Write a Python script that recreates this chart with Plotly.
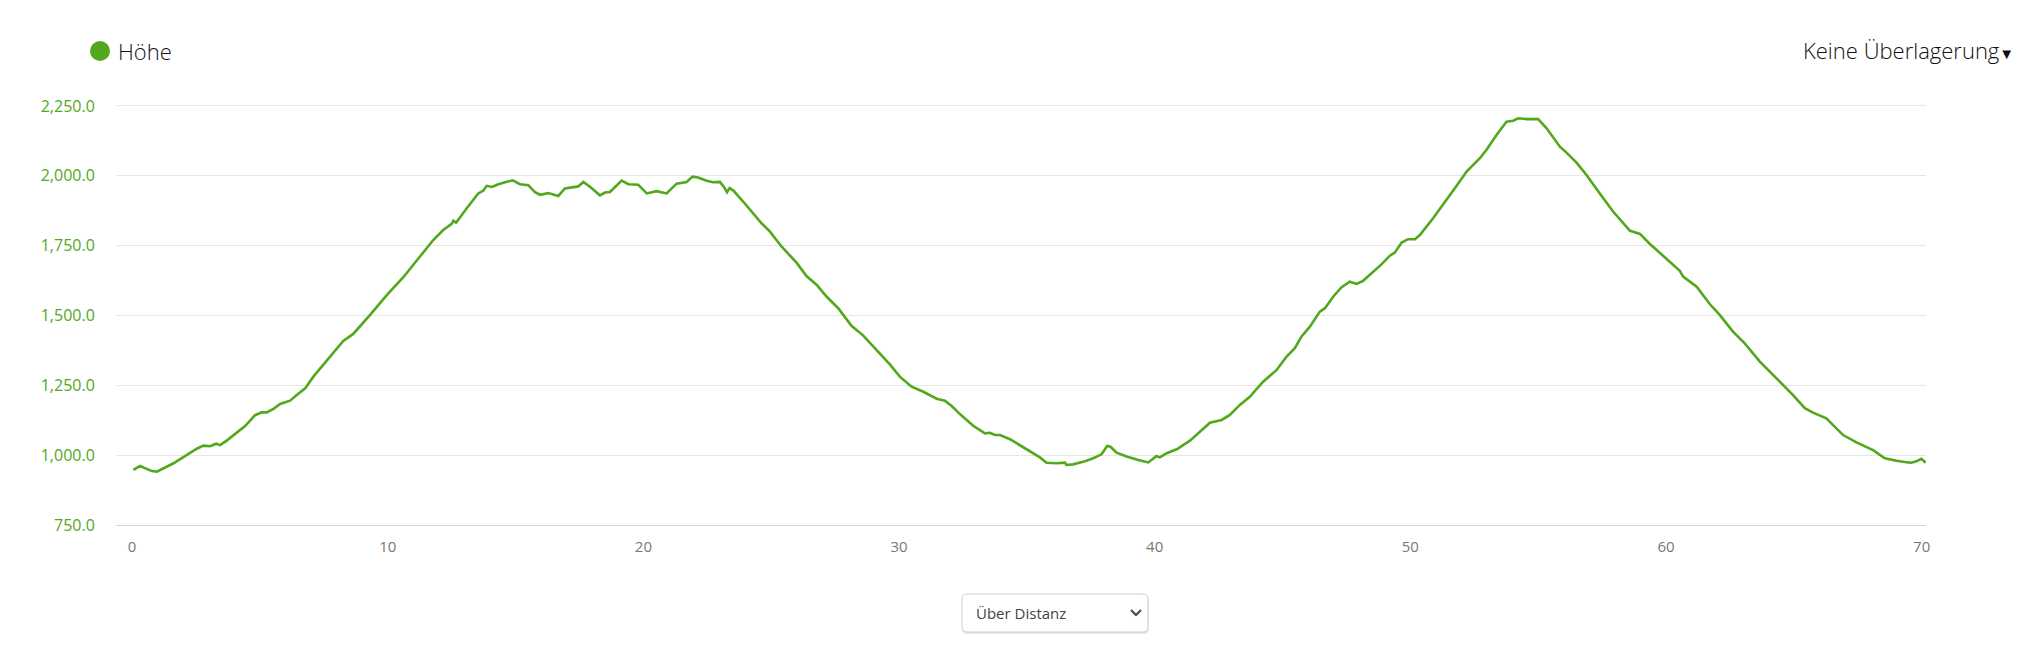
import plotly.graph_objects as go

# ---- data ----
distance_km = [
    0.05, 0.31, 0.77, 0.97, 1.62, 2.14, 2.53, 2.79, 3.05, 3.29, 3.44, 3.70, 4.03, 4.42, 4.81,
    5.07, 5.27, 5.53, 5.79, 6.18, 6.44, 6.77, 7.09, 7.74, 8.26, 8.65, 9.31, 9.96, 10.61, 11.26,
    11.78, 12.17, 12.50, 12.57, 12.67, 13.09, 13.54, 13.74, 13.87, 14.07, 14.33, 14.59, 14.89,
    15.17, 15.50, 15.76, 15.96, 16.28, 16.67, 16.93, 17.20, 17.45, 17.65, 17.91, 18.30, 18.50,
    18.69, 19.15, 19.41, 19.80, 20.13, 20.52, 20.91, 21.30, 21.69, 21.92, 22.14, 22.47, 22.73,
    22.99, 23.15, 23.27, 23.37, 23.52, 23.91, 24.30, 24.62, 24.95, 25.41, 25.99, 26.38, 26.78,
    27.17, 27.62, 28.14, 28.60, 29.12, 29.64, 30.03, 30.49, 30.95, 31.47, 31.79, 32.06, 32.38,
    32.90, 33.36, 33.55, 33.75, 33.95, 34.34, 34.73, 35.12, 35.51, 35.77, 36.16, 36.49, 36.55,
    36.81, 37.20, 37.60, 37.92, 38.14, 38.27, 38.51, 38.90, 39.36, 39.75, 40.07, 40.20, 40.47,
    40.86, 41.38, 41.77, 42.16, 42.62, 42.94, 43.33, 43.72, 44.24, 44.77, 45.16, 45.48, 45.74,
    46.07, 46.46, 46.66, 46.98, 47.31, 47.63, 47.90, 48.15, 48.55, 48.87, 49.20, 49.39, 49.66,
    49.91, 50.18, 50.37, 50.89, 51.42, 51.81, 52.20, 52.72, 52.98, 53.37, 53.76, 54.02, 54.22,
    54.54, 55.00, 55.33, 55.85, 56.11, 56.50, 56.89, 57.41, 57.93, 58.19, 58.59, 58.72, 58.98,
    59.37, 59.76, 60.15, 60.54, 60.67, 61.20, 61.71, 62.10, 62.62, 63.08, 63.67, 64.32, 64.97,
    65.43, 65.75, 66.27, 66.93, 67.45, 68.10, 68.56, 69.01, 69.47, 69.60, 69.79, 69.99, 70.16,
]
elevation_m = [
    947, 961, 943, 941, 971, 1000, 1023, 1034, 1032, 1041, 1036, 1052, 1076, 1104, 1143,
    1153, 1153, 1166, 1183, 1195, 1215, 1239, 1281, 1353, 1409, 1434, 1502, 1573, 1637, 1711,
    1770, 1806, 1828, 1839, 1832, 1884, 1937, 1947, 1964, 1960, 1970, 1977, 1984,
    1970, 1966, 1941, 1932, 1938, 1928, 1955, 1958, 1962, 1978, 1961, 1930, 1940,
    1942, 1983, 1970, 1968, 1937, 1945, 1937, 1972, 1978, 1997, 1994, 1982, 1977,
    1978, 1960, 1941, 1956, 1947, 1907, 1863, 1830, 1800, 1746, 1689, 1641, 1609,
    1567, 1526, 1463, 1428, 1376, 1325, 1281, 1245, 1227, 1202, 1195, 1176, 1147,
    1105, 1078, 1080, 1072, 1072, 1057, 1036, 1014, 992, 973, 971, 973, 965,
    967, 976, 989, 1003, 1033, 1030, 1009, 995, 983, 974, 997, 992, 1007,
    1021, 1052, 1084, 1116, 1126, 1144, 1180, 1209, 1263, 1305, 1353, 1383, 1424,
    1460, 1514, 1526, 1567, 1601, 1621, 1613, 1624, 1657, 1683, 1714, 1725, 1761,
    1773, 1773, 1788, 1848, 1913, 1964, 2015, 2063, 2093, 2146, 2194, 2197, 2206,
    2203, 2203, 2170, 2104, 2083, 2047, 2003, 1937, 1872, 1845, 1803, 1800, 1792,
    1756, 1725, 1693, 1660, 1639, 1603, 1541, 1502, 1442, 1400, 1335, 1275, 1215,
    1168, 1152, 1132, 1072, 1046, 1018, 989, 980, 974, 973, 978, 987, 973,
]
x_ticks = [0, 10, 20, 30, 40, 50, 60, 70]
y_ticks = [750, 1000, 1250, 1500, 1750, 2000, 2250]
series_name = "Höhe"
overlay_label = "Keine Überlagerung"
mode_label = "Über Distanz"

GREEN = "#52a81c"
FONT = "Open Sans"

# plot area in pixels
W, H = 2020, 656
L, R, T, B = 116, 1926, 104, 525


def px(x):
    return (x - L) / (R - L)


def py(y):
    return (B - y) / (B - T)


fig = go.Figure()
fig.add_trace(go.Scatter(
    x=distance_km, y=elevation_m, mode="lines", name=series_name,
    line=dict(color=GREEN, width=2.6), showlegend=False,
    hovertemplate="%{x:.1f} km<br>%{y:,.1f} m<extra></extra>",
))

shapes = []
# legend dot
shapes.append(dict(type="circle", xref="paper", yref="paper",
                   x0=px(90), x1=px(110), y0=py(61), y1=py(41),
                   fillcolor=GREEN, line=dict(width=0)))


def rounded_rect(x0, y0, x1, y1, r):
    pts = [
        f"M {px(x0 + r)},{py(y0)}",
        f"L {px(x1 - r)},{py(y0)}",
        f"Q {px(x1)},{py(y0)} {px(x1)},{py(y0 + r)}",
        f"L {px(x1)},{py(y1 - r)}",
        f"Q {px(x1)},{py(y1)} {px(x1 - r)},{py(y1)}",
        f"L {px(x0 + r)},{py(y1)}",
        f"Q {px(x0)},{py(y1)} {px(x0)},{py(y1 - r)}",
        f"L {px(x0)},{py(y0 + r)}",
        f"Q {px(x0)},{py(y0)} {px(x0 + r)},{py(y0)}",
        "Z",
    ]
    return " ".join(pts)


# dropdown shadow + box
shapes.append(dict(type="path", xref="paper", yref="paper",
                   path=rounded_rect(962, 596, 1149, 634, 5),
                   fillcolor="rgba(0,0,0,0.10)", line=dict(width=0)))
shapes.append(dict(type="path", xref="paper", yref="paper",
                   path=rounded_rect(962, 594, 1148, 632, 5),
                   fillcolor="white", line=dict(color="#cfcfcf", width=1)))
# chevron
shapes.append(dict(type="path", xref="paper", yref="paper",
                   path=f"M {px(1131)},{py(610)} L {px(1136)},{py(615)} L {px(1141)},{py(610)}",
                   line=dict(color="#444444", width=2)))

annotations = [
    dict(text=series_name, xref="paper", yref="paper", x=px(116), y=py(51),
         xanchor="left", yanchor="middle", showarrow=False,
         font=dict(family=FONT, size=22, color="#111111", weight=300)),
    dict(text=overlay_label + "<span style='font-size:15px'>▼</span>", xref="paper", yref="paper",
         x=px(2016), y=py(50), xanchor="right", yanchor="middle", showarrow=False,
         font=dict(family=FONT, size=22, color="#111111", weight=300)),
    dict(text=mode_label, xref="paper", yref="paper", x=px(974), y=py(613),
         xanchor="left", yanchor="middle", showarrow=False,
         font=dict(family=FONT, size=15, color="#444444")),
]

fig.update_layout(
    width=W, height=H,
    margin=dict(l=L, r=W - R, t=T, b=H - B, pad=0),
    paper_bgcolor="white", plot_bgcolor="white",
    showlegend=False,
    shapes=shapes, annotations=annotations,
    xaxis=dict(
        range=[-0.63, 70.17], tickmode="array", tickvals=x_ticks,
        ticktext=[str(v) for v in x_ticks],
        showgrid=False, zeroline=False,
        showline=True, linecolor="#ccd6eb", linewidth=1,
        ticks="outside", ticklen=8, tickcolor="rgba(0,0,0,0)",
        tickfont=dict(family=FONT, size=15, color="#777777"),
    ),
    yaxis=dict(
        range=[750, 2257], tickmode="array", tickvals=y_ticks,
        ticktext=[f"{v:,.1f}" for v in y_ticks],
        showgrid=True, gridcolor="#e6e6e6", gridwidth=1,
        zeroline=False, showline=False,
        ticks="outside", ticklen=17, tickcolor="rgba(0,0,0,0)",
        tickfont=dict(family=FONT, size=16, color=GREEN),
    ),
)

fig.write_html(
    "out.html",
    config={"displayModeBar": False},
    post_script="document.body.style.margin='0';document.body.style.overflow='hidden';",
)
